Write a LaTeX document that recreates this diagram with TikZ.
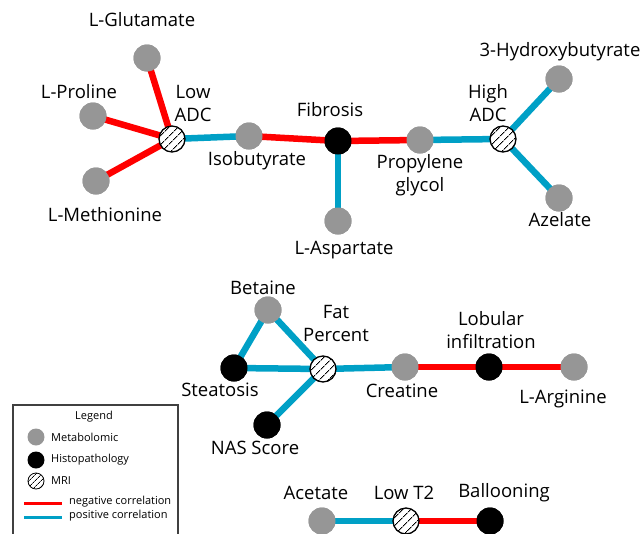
\documentclass[tikz,border=0pt]{standalone}
\usepackage{fontspec}
\setmainfont{Open Sans}
\usetikzlibrary{patterns.meta}
\definecolor{poscolor}{RGB}{0,160,198}
\definecolor{negcolor}{RGB}{255,0,0}
\definecolor{metcolor}{RGB}{150,150,150}
\begin{document}
\begin{tikzpicture}[x=1pt,y=-1pt,
  metab/.style={circle,fill=metcolor,minimum size=27pt,inner sep=0pt},
  histo/.style={circle,fill=black,minimum size=27pt,inner sep=0pt},
  mri/.style={circle,draw=black,line width=1.3pt,fill=white,minimum size=26pt,inner sep=0pt,
    postaction={pattern={Lines[angle=45,distance=6.5pt,line width=1pt]}}},
  lmetab/.style={circle,fill=metcolor,minimum size=17pt,inner sep=0pt},
  lhisto/.style={circle,fill=black,minimum size=17pt,inner sep=0pt},
  lmri/.style={circle,draw=black,line width=0.8pt,fill=white,minimum size=16pt,inner sep=0pt,
    postaction={pattern={Lines[angle=45,distance=4pt,line width=0.7pt]}}},
  poscor/.style={draw=poscolor,line width=6.5pt},
  negcor/.style={draw=negcolor,line width=6.5pt},
  lbl/.style={font=\fontsize{18.5}{23}\selectfont,align=center,inner sep=0pt},
  leg/.style={font=\fontsize{11}{12}\selectfont,inner sep=0pt}]
\useasboundingbox (0,0) rectangle (640,533);
% group 1 nodes
\node[metab] (glu) at (147,58) {};
\node[metab] (pro) at (93,116) {};
\node[metab] (met) at (96,181) {};
\node[metab] (iso) at (249,136) {};
\node[histo] (fib) at (338,141) {};
\node[metab] (asp) at (338,221) {};
\node[metab] (prop) at (420,140) {};
\node[metab] (hb) at (559,79) {};
\node[metab] (aze) at (559,198) {};
\coordinate (lowadcC) at (172,139);
\coordinate (highadcC) at (503,139);
% group 2
\node[metab] (bet) at (268,310) {};
\node[histo] (stea) at (234,368) {};
\coordinate (fatC) at (323,369);
\node[histo] (nas) at (267,425) {};
\node[metab] (cre) at (405,367) {};
\node[histo] (lob) at (489,367) {};
\node[metab] (arg) at (574,367) {};
% group 3
\node[metab] (ace) at (322,521) {};
\coordinate (lowtC) at (406,521);
\node[histo] (bal) at (490,521) {};
% edges
\draw[negcor] (glu.center) -- (lowadcC);
\draw[negcor] (pro.center) -- (lowadcC);
\draw[negcor] (met.center) -- (lowadcC);
\draw[poscor] (lowadcC) -- (iso.center);
\draw[negcor] (iso.center) -- (fib.center);
\draw[negcor] (fib.center) -- (prop.center);
\draw[poscor] (fib.center) -- (asp.center);
\draw[poscor] (prop.center) -- (highadcC);
\draw[poscor] (highadcC) -- (hb.center);
\draw[poscor] (highadcC) -- (aze.center);
\draw[poscor] (bet.center) -- (stea.center);
\draw[poscor] (bet.center) -- (fatC);
\draw[poscor] (stea.center) -- (fatC);
\draw[poscor] (nas.center) -- (fatC);
\draw[poscor] (fatC) -- (cre.center);
\draw[negcor] (cre.center) -- (lob.center);
\draw[negcor] (lob.center) -- (arg.center);
\draw[poscor] (ace.center) -- (lowtC);
\draw[negcor] (lowtC) -- (bal.center);
% redraw nodes on top
\node[metab] at (glu) {};
\node[metab] at (pro) {};
\node[metab] at (met) {};
\node[metab] at (iso) {};
\node[histo] at (fib) {};
\node[metab] at (asp) {};
\node[metab] at (prop) {};
\node[metab] at (hb) {};
\node[metab] at (aze) {};
\node[metab] at (bet) {};
\node[histo] at (stea) {};
\node[histo] at (nas) {};
\node[metab] at (cre) {};
\node[histo] at (lob) {};
\node[metab] at (arg) {};
\node[metab] at (ace) {};
\node[histo] at (bal) {};
\node[mri] (lowadc) at (lowadcC) {};
\node[mri] (highadc) at (highadcC) {};
\node[mri] (fat) at (fatC) {};
\node[mri] (lowt) at (lowtC) {};
% labels
\node[lbl] (tglu) at (142,20) {L-Glutamate};
\node[lbl] (tpro) at (79,92) {L-Proline};
\node[lbl] (tmet) at (105,215) {L-Methionine};
\node[lbl] (tlowadc) at (193,103) {Low\\ADC};
\node[lbl] (tiso) at (257,161) {Isobutyrate};
\node[lbl] (tfib) at (330,110) {Fibrosis};
\node[lbl] (tasp) at (344,250) {L-Aspartate};
\node[lbl] (tprop) at (420,175) {Propylene\\glycol};
\node[lbl] (thighadc) at (488,103) {High\\ADC};
\node[lbl] (thb) at (560,52) {3-Hydroxybutyrate};
\node[lbl] (taze) at (560,220) {Azelate};
\node[lbl] (tbet) at (263,288) {Betaine};
\node[lbl] (tstea) at (220,390) {Steatosis};
\node[lbl] (tfat) at (336,323) {Fat\\Percent};
\node[lbl] (tnas) at (255,448) {NAS Score};
\node[lbl] (tcre) at (402,391) {Creatine};
\node[lbl] (tlob) at (491,330) {Lobular\\infiltration};
\node[lbl] (targ) at (563,399) {L-Arginine};
\node[lbl] (tace) at (316,493) {Acetate};
\node[lbl] (tlowt) at (404,493) {Low T2};
\node[lbl] (tbal) at (504,493) {Ballooning};
% legend
\draw[line width=1.2pt,draw=black!75] (13,540) -- (13,405) -- (178,405) -- (178,540);
\node[leg] (lgt) at (94,417) {Legend};
\node[lmetab] (lg1) at (36,437) {};
\node[leg,anchor=west] (lg1t) at (51,437) {Metabolomic};
\node[lhisto] (lg2) at (36,460) {};
\node[leg,anchor=west] (lg2t) at (51,460) {Histopathology};
\node[lmri] (lg3) at (36,481) {};
\node[leg,anchor=west] (lg3t) at (51,481) {MRI};
\coordinate (r1) at (24,503); \coordinate (r2) at (62,503);
\coordinate (b1) at (24,517); \coordinate (b2) at (62,517);
\draw[draw=negcolor,line width=3pt] (r1) -- (r2);
\draw[draw=poscolor,line width=3pt] (b1) -- (b2);
\node[leg,anchor=west] (lg4t) at (69,502) {negative correlation};
\node[leg,anchor=west] (lg5t) at (69,516) {positive correlation};
\end{tikzpicture}
\end{document}
